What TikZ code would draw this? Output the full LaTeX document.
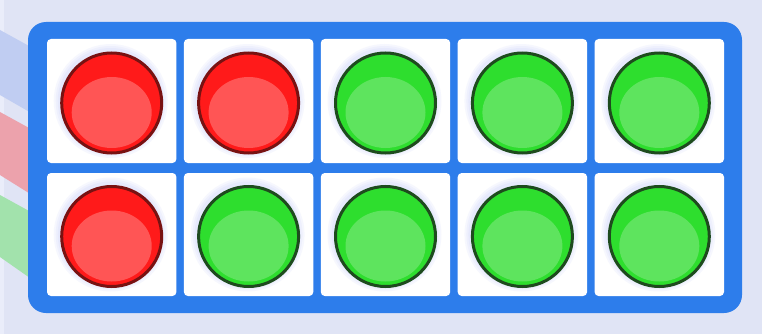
\documentclass[tikz,border=0pt]{standalone}
\definecolor{bg}{RGB}{224,228,245}
\definecolor{bgl}{RGB}{234,237,250}
\definecolor{frameblue}{RGB}{45,125,235}
\definecolor{stripeB}{RGB}{192,205,242}
\definecolor{stripeR}{RGB}{236,162,172}
\definecolor{stripeG}{RGB}{162,226,172}
\definecolor{redfill}{RGB}{255,26,26}
\definecolor{redlight}{RGB}{255,85,85}
\definecolor{redline}{RGB}{120,18,18}
\definecolor{greenfill}{RGB}{46,222,46}
\definecolor{greenlight}{RGB}{94,228,94}
\definecolor{greenline}{RGB}{30,75,30}
\definecolor{glow}{RGB}{110,130,240}
\tikzset{
  cellbox/.style={fill=white, rounded corners=4pt},
  glowring/.style={fill=glow, fill opacity=0.06},
}
\newcommand{\disk}[5]{%
  \fill[glowring] (#1-1,#2-2) circle (57);
  \fill[glowring] (#1-1,#2-2) circle (55);
  \fill[glowring] (#1-1,#2-2) circle (53);
  \fill[#3] (#1,#2) circle (50);
  \fill[#4] (#1,#2+9.5) ellipse (40 and 35.5);
  \draw[#5, line width=3pt] (#1,#2) circle (50);
}
\begin{document}
\begin{tikzpicture}[x=1pt,y=-1pt]
\useasboundingbox (0,0) rectangle (762,334);
\fill[bg] (0,0) rectangle (762,334);
\fill[bgl] (0,0) rectangle (4,334);
\fill[stripeB] (0,30) -- (40,52) -- (40,118) -- (0,95) -- cycle;
\fill[stripeR] (0,112) -- (40,134) -- (40,200) -- (0,175) -- cycle;
\fill[stripeG] (0,195) -- (40,217) -- (40,285) -- (0,257) -- cycle;
\fill[frameblue, rounded corners=18pt] (28,22) rectangle (742,313);
\foreach \i in {0,...,4}{
  \pgfmathsetmacro{\xa}{47+\i*136.9}
  \pgfmathsetmacro{\xb}{\xa+129.4}
  \fill[cellbox] (\xa,39) rectangle (\xb,163);
  \fill[cellbox] (\xa,173) rectangle (\xb,296);
}
\foreach \i/\c in {0/red,1/red,2/green,3/green,4/green}{
  \pgfmathsetmacro{\cx}{47+\i*136.9+64.7}
  \disk{\cx}{103}{\c fill}{\c light}{\c line}
}
\foreach \i/\c in {0/red,1/green,2/green,3/green,4/green}{
  \pgfmathsetmacro{\cx}{47+\i*136.9+64.7}
  \disk{\cx}{236.5}{\c fill}{\c light}{\c line}
}
\end{tikzpicture}
\end{document}
